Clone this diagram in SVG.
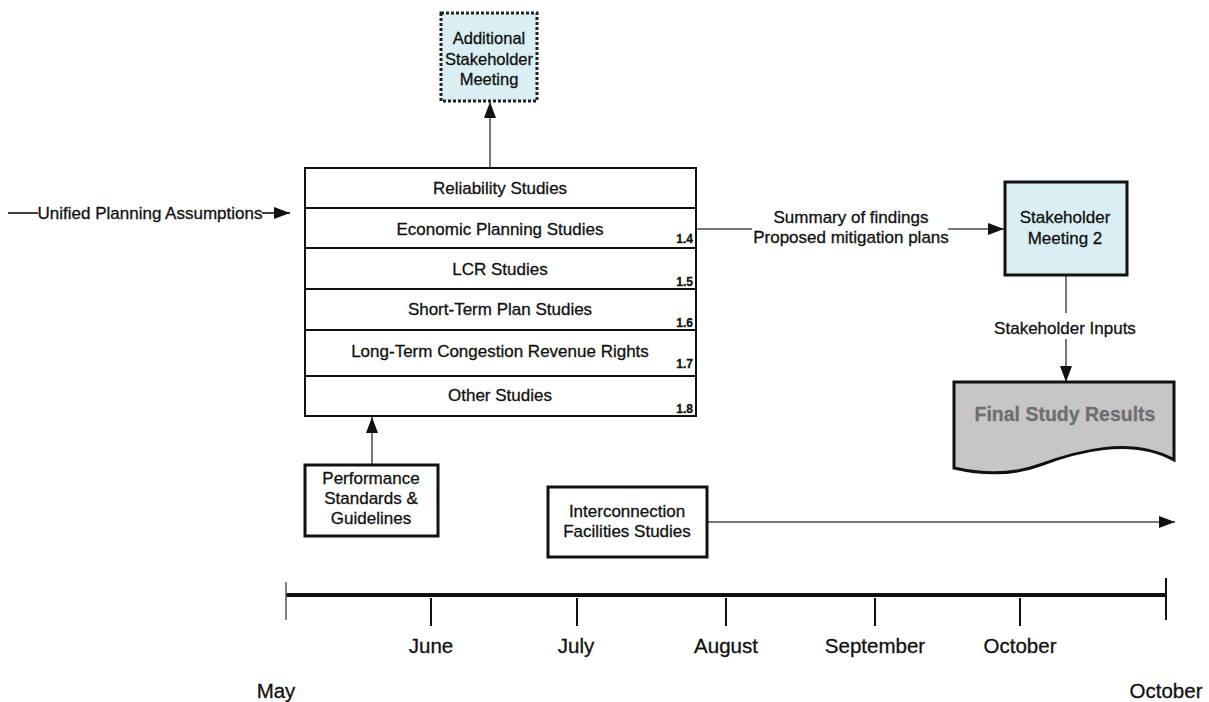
<svg xmlns="http://www.w3.org/2000/svg" width="1209" height="702" viewBox="0 0 1209 702">
  <style>
    text { font-family: "Liberation Sans", Arial, sans-serif; fill: #111; stroke: #111; stroke-width: 0.3; }
    .lbl { font-size: 17px; text-anchor: middle; }
    .num { font-size: 12px; font-weight: bold; text-anchor: end; }
    .mon { font-size: 20.5px; text-anchor: middle; }
    .box { fill: #fff; stroke: #111; stroke-width: 3; }
    .row { fill: #fff; stroke: #111; stroke-width: 2; }
    .meet { fill: #d9eff3; stroke: #111; stroke-width: 3; }
    .conn { fill: none; stroke: #777; stroke-width: 2; }
    .dark { fill: none; stroke: #111; stroke-width: 1.6; }
    .tick { stroke: #111; stroke-width: 2; }
  </style>
  <defs>
    <marker id="arrow" viewBox="0 0 16 12" refX="16" refY="6" markerWidth="16" markerHeight="12" markerUnits="userSpaceOnUse" orient="auto">
      <path d="M0,0 L16,6 L0,12 Z" fill="#111"/>
    </marker>
  </defs>

  <!-- connectors -->
  <g id="connectors">
    <line class="dark" x1="8" y1="213" x2="38" y2="213"/>
    <line class="dark" x1="262" y1="213" x2="290" y2="213" marker-end="url(#arrow)"/>
    <line class="conn" x1="490" y1="168" x2="490" y2="102" marker-end="url(#arrow)"/>
    <line class="conn" x1="697" y1="229" x2="752" y2="229"/>
    <line class="conn" x1="948" y1="229" x2="1004" y2="229" marker-end="url(#arrow)"/>
    <line class="conn" x1="1066" y1="275" x2="1066" y2="313"/>
    <line class="conn" x1="1066" y1="339" x2="1066" y2="382" marker-end="url(#arrow)"/>
    <line class="conn" x1="372" y1="464" x2="372" y2="417" marker-end="url(#arrow)"/>
    <line class="conn" x1="707" y1="522" x2="1175" y2="522" marker-end="url(#arrow)"/>
    <text class="lbl" x="150" y="219">Unified Planning Assumptions</text>
    <text class="lbl" x="851" y="223">Summary of findings</text>
    <text class="lbl" x="851" y="243">Proposed mitigation plans</text>
    <text class="lbl" x="1065" y="334">Stakeholder Inputs</text>
  </g>

  <!-- additional stakeholder meeting -->
  <g id="additional-meeting">
    <rect x="441" y="13" width="96" height="88" fill="#d9eff3" stroke="#222" stroke-width="3" stroke-dasharray="3 2"/>
    <text class="lbl" x="489" y="44" style="font-size:16.5px">Additional</text>
    <text class="lbl" x="489" y="65" style="font-size:16.5px">Stakeholder</text>
    <text class="lbl" x="489" y="85" style="font-size:16.5px">Meeting</text>
  </g>

  <!-- study stack -->
  <g id="studies">
    <rect class="row" x="305" y="168" width="391" height="40"/>
    <rect class="row" x="305" y="208" width="391" height="40"/>
    <rect class="row" x="305" y="248" width="391" height="41"/>
    <rect class="row" x="305" y="289" width="391" height="41"/>
    <rect class="row" x="305" y="330" width="391" height="46"/>
    <rect class="row" x="305" y="376" width="391" height="40"/>
    <text class="lbl" x="500" y="194">Reliability Studies</text>
    <text class="lbl" x="500" y="235">Economic Planning Studies</text>
    <text class="lbl" x="500" y="275">LCR Studies</text>
    <text class="lbl" x="500" y="315">Short-Term Plan Studies</text>
    <text class="lbl" x="500" y="357">Long-Term Congestion Revenue Rights</text>
    <text class="lbl" x="500" y="401">Other Studies</text>
    <text class="num" x="693" y="243">1.4</text>
    <text class="num" x="693" y="286">1.5</text>
    <text class="num" x="693" y="327">1.6</text>
    <text class="num" x="693" y="368">1.7</text>
    <text class="num" x="693" y="413">1.8</text>
  </g>

  <!-- stakeholder meeting 2 -->
  <g id="meeting-2">
    <rect class="meet" x="1005" y="182" width="122" height="93"/>
    <text class="lbl" x="1065" y="223">Stakeholder</text>
    <text class="lbl" x="1065" y="244">Meeting 2</text>
  </g>

  <!-- final study results document -->
  <g id="final-results">
    <path d="M954,382 H1174 V460 C1130,436 1075,452 1040,465 C1010,476 980,474 954,468 Z" fill="#c6c6c6" stroke="#111" stroke-width="3"/>
    <text x="1065" y="421" font-size="19.5" font-weight="bold" text-anchor="middle" style="fill:#6e6e6e;stroke:#6e6e6e">Final Study Results</text>
  </g>

  <!-- performance standards -->
  <g id="performance">
    <rect class="box" x="305" y="465" width="133" height="71"/>
    <text class="lbl" x="371" y="484">Performance</text>
    <text class="lbl" x="371" y="504">Standards &amp;</text>
    <text class="lbl" x="371" y="524">Guidelines</text>
  </g>

  <!-- interconnection facilities -->
  <g id="interconnection">
    <rect class="box" x="548" y="487" width="159" height="70"/>
    <text class="lbl" x="627" y="517">Interconnection</text>
    <text class="lbl" x="627" y="537">Facilities Studies</text>
  </g>

  <!-- timeline -->
  <g id="timeline">
    <line x1="286" y1="595" x2="1166" y2="595" stroke="#111" stroke-width="4"/>
    <line x1="286" y1="582" x2="286" y2="620" stroke="#555" stroke-width="1.5"/>
    <line class="tick" x1="1166" y1="578" x2="1166" y2="620"/>
    <line class="tick" x1="431" y1="598" x2="431" y2="626"/>
    <line class="tick" x1="577" y1="598" x2="577" y2="626"/>
    <line class="tick" x1="726" y1="598" x2="726" y2="626"/>
    <line class="tick" x1="875" y1="598" x2="875" y2="626"/>
    <line class="tick" x1="1020" y1="598" x2="1020" y2="626"/>
    <text class="mon" x="431" y="653">June</text>
    <text class="mon" x="576" y="653">July</text>
    <text class="mon" x="726" y="653">August</text>
    <text class="mon" x="875" y="653">September</text>
    <text class="mon" x="1020" y="653">October</text>
    <text class="mon" x="276" y="698">May</text>
    <text class="mon" x="1166" y="698">October</text>
  </g>
</svg>
